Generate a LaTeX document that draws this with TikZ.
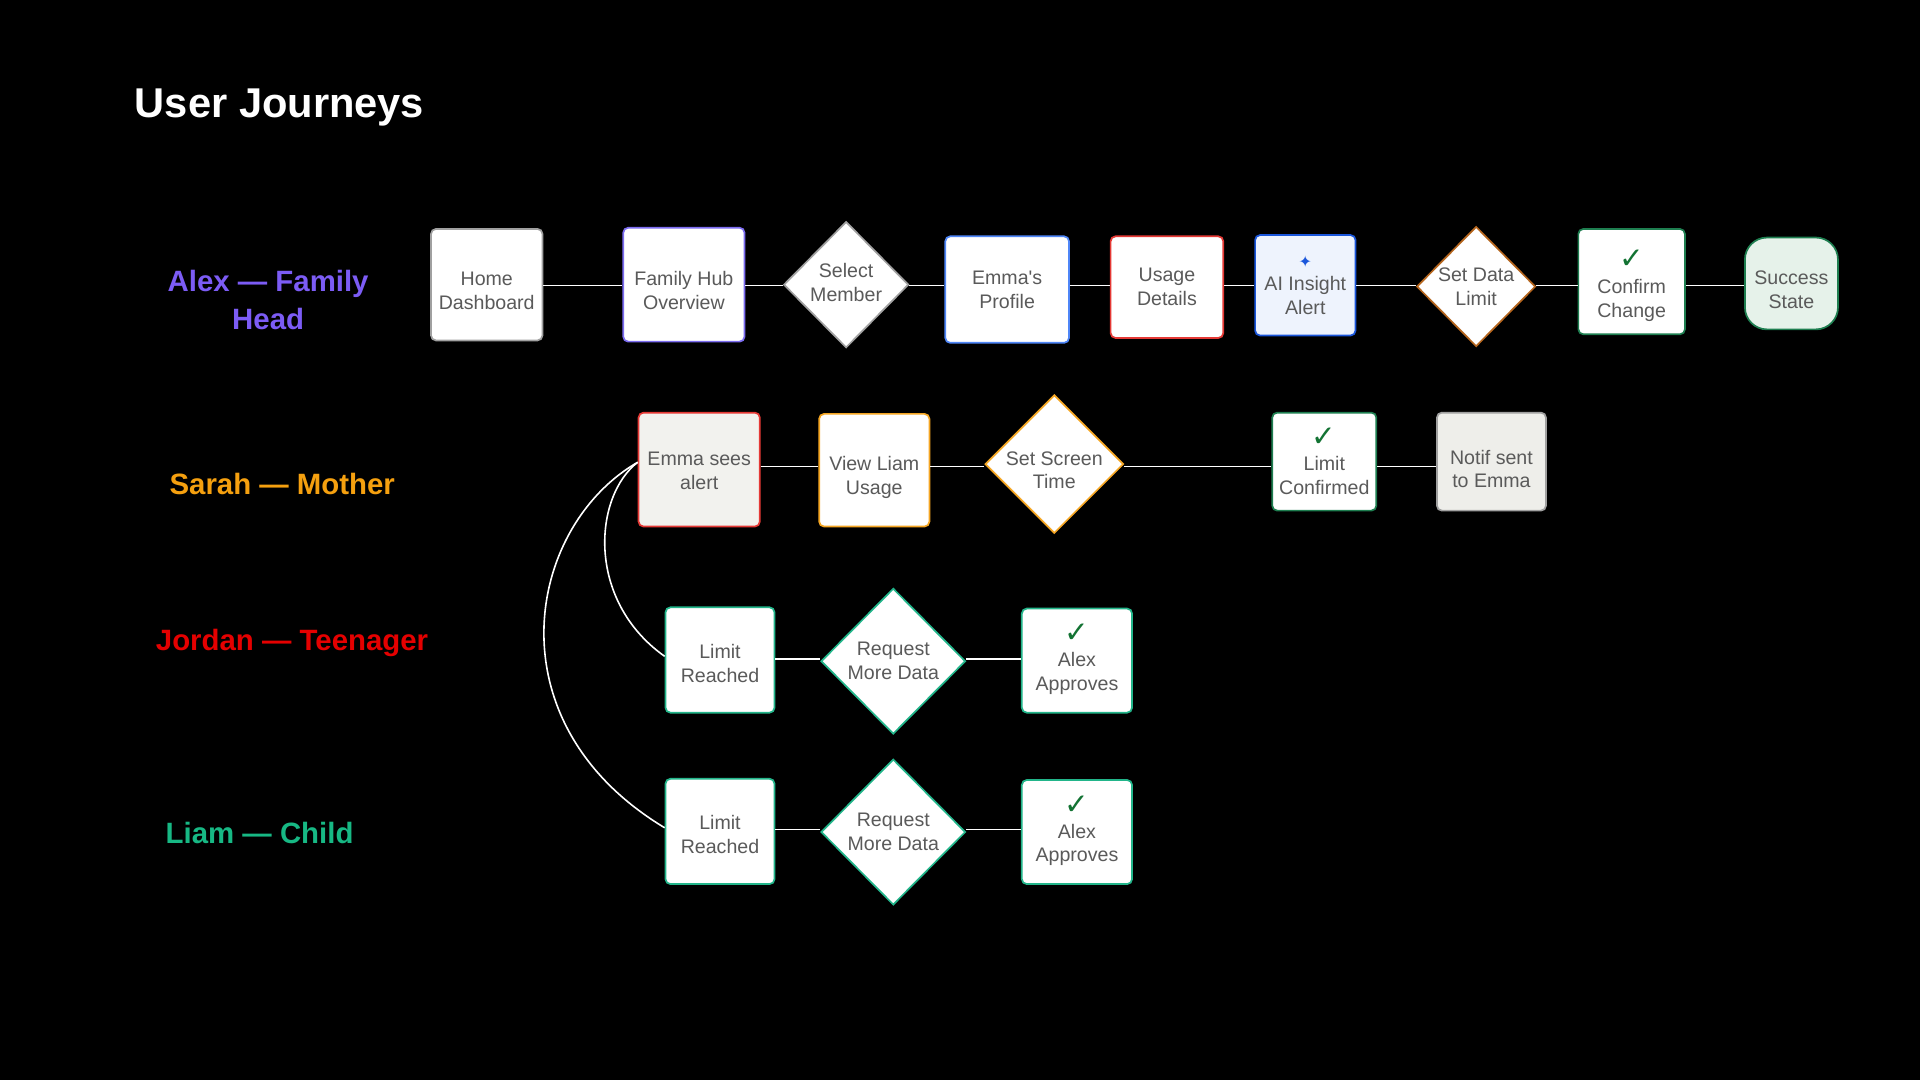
\documentclass[tikz,border=0pt]{standalone}
\usepackage{fontspec}
\setmainfont{Liberation Sans}
\newfontfamily\symfont{DejaVu Sans}
\usetikzlibrary{shapes.geometric}
\definecolor{txtgray}{HTML}{5A5A5A}
\definecolor{bgray}{HTML}{A0A0A0}
\definecolor{bpurple}{HTML}{7C6CF0}
\definecolor{bblue}{HTML}{4F86F7}
\definecolor{bred}{HTML}{E53935}
\definecolor{aiblue}{HTML}{1A56DB}
\definecolor{aifill}{HTML}{EEF3FD}
\definecolor{bbrown}{HTML}{B5651D}
\definecolor{bgreen}{HTML}{1E7E50}
\definecolor{sfill}{HTML}{E6F2EA}
\definecolor{efill}{HTML}{F2F2EE}
\definecolor{nfill}{HTML}{EEEEEA}
\definecolor{borange}{HTML}{F5A623}
\definecolor{bteal}{HTML}{22B58A}
\definecolor{chk}{HTML}{137333}
\definecolor{lpurple}{HTML}{7C5CF5}
\definecolor{lorange}{HTML}{F5A00F}
\definecolor{lred}{HTML}{E50000}
\definecolor{lgreen}{HTML}{17B884}
\newcommand{\chkmark}{{\symfont\fontsize{24}{24}\selectfont\color{chk}\char"2713}}
\newcommand{\sparkle}{{\symfont\fontsize{13}{13}\selectfont\color{aiblue}\char"2726}}
\begin{document}
\begin{tikzpicture}[x=1pt,y=-1pt,
  box/.style={draw, fill=white, rounded corners=4pt, line width=1.4pt, inner sep=0pt},
  dia/.style={draw, fill=white, diamond, line width=1.4pt, inner sep=0pt, aspect=1},
  btxt/.style={align=center, inner sep=0pt, font=\fontsize{16}{19.5}\selectfont, text=txtgray},
  conn/.style={draw=white, line width=1.3pt},
  lane/.style={align=center, inner sep=0pt, font=\fontsize{24}{31}\selectfont\bfseries},
]
\fill[black] (0,0) rectangle (1568,882);
\useasboundingbox (0,0) rectangle (1568,882);

\node[anchor=base west, inner sep=0pt, text=white, font=\fontsize{34}{40}\selectfont\bfseries] (title) at (110,96) {User Journeys};

\node[lane, text=lpurple] (l1) at (219,245) {Alex — Family\\Head};
\node[lane, text=lorange] (l2) at (230.5,395) {Sarah — Mother};
\node[lane, text=lred] (l3) at (238.5,525) {Jordan — Teenager};
\node[lane, text=lgreen] (l4) at (212,680) {Liam — Child};

\coordinate (r1) at (0,233);
\coordinate (r2) at (0,381);
\coordinate (r3) at (0,538);
\coordinate (r4) at (0,677.5);

% Row 1
\node[box, draw=bgray, minimum width=91pt, minimum height=91pt] (hd) at (397.5,232.5) {};
\node[btxt] (hdt) at ([yshift=-5pt]hd.center) {Home\\Dashboard};
\node[box, draw=bpurple, minimum width=99pt, minimum height=93pt] (fh) at (558.5,232.5) {};
\node[btxt] (fht) at ([yshift=-5pt]fh.center) {Family Hub\\Overview};
\node[dia, draw=bgray, minimum width=102pt, minimum height=103pt] (sm) at (691,232.5) {};
\node[btxt] (smt) at ([yshift=2pt]sm.center) {Select\\Member};
\node[box, draw=bblue, minimum width=101pt, minimum height=87pt] (ep) at (822.5,236.5) {};
\node[btxt] (ept) at (ep.center) {Emma\textquotesingle s\\Profile};
\node[box, draw=bred, minimum width=92pt, minimum height=83pt] (ud) at (953,234.5) {};
\node[btxt] (udt) at (ud.center) {Usage\\Details};
\node[box, draw=aiblue, fill=aifill, minimum width=82pt, minimum height=82pt] (ai) at (1066,233) {};
\node[btxt] (ait) at (ai.center) {\sparkle\\[-1pt]AI Insight\\Alert};
\node[dia, draw=bbrown, minimum width=97pt, minimum height=98pt] (sd) at (1205.5,234) {};
\node[btxt] (sdt) at (sd.center) {Set Data\\Limit};
\node[box, draw=bgreen, minimum width=87pt, minimum height=86pt] (cc) at (1332.5,230) {};
\node[btxt] (cct) at ([yshift=-3.5pt]cc.center) {\chkmark\\[1pt]Confirm\\Change};
\node[box, draw=bgreen, fill=sfill, rounded corners=18pt, minimum width=76pt, minimum height=75pt] (ss) at (1463,231.5) {};
\node[btxt] (sst) at ([yshift=-5pt]ss.center) {Success\\State};

\draw[conn] (hd.east |- r1) -- (fh.west |- r1);
\draw[conn] (fh.east |- r1) -- (sm.west |- r1);
\draw[conn] (sm.east |- r1) -- (ep.west |- r1);
\draw[conn] (ep.east |- r1) -- (ud.west |- r1);
\draw[conn] (ud.east |- r1) -- (ai.west |- r1);
\draw[conn] (ai.east |- r1) -- (sd.west |- r1);
\draw[conn] (sd.east |- r1) -- (cc.west |- r1);
\draw[conn] (cc.east |- r1) -- (ss.west |- r1);

% Row 2
\node[box, draw=bred, fill=efill, minimum width=99pt, minimum height=93pt] (esa) at (571,383.5) {};
\node[btxt] (esat) at ([yshift=-1pt]esa.center) {Emma sees\\alert};
\node[box, draw=borange, minimum width=90pt, minimum height=92pt] (vlu) at (714,384) {};
\node[btxt] (vlut) at ([yshift=-6pt]vlu.center) {View Liam\\Usage};
\node[dia, draw=borange, minimum width=113pt, minimum height=113pt] (scr) at (861,379) {};
\node[btxt] (scrt) at ([yshift=-5pt]scr.center) {Set Screen\\Time};
\node[box, draw=bgreen, minimum width=85pt, minimum height=80pt] (lc) at (1081.5,377) {};
\node[btxt] (lct) at (lc.center) {\chkmark\\[0pt]Limit\\Confirmed};
\node[box, draw=bgray, fill=nfill, minimum width=89pt, minimum height=80pt] (nse) at (1218,377) {};
\node[btxt] (nset) at ([yshift=-6pt]nse.center) {Notif sent\\to Emma};

\draw[conn] (esa.east |- r2) -- (vlu.west |- r2);
\draw[conn] (vlu.east |- r2) -- (scr.west |- r2);
\draw[conn] (scr.east |- r2) -- (lc.west |- r2);
\draw[conn] (lc.east |- r2) -- (nse.west |- r2);

% Row 3
\node[box, draw=bteal, minimum width=89pt, minimum height=86pt] (lr1) at (588,539) {};
\node[btxt] (lr1t) at ([yshift=-2.5pt]lr1.center) {Limit\\Reached};
\node[dia, draw=bteal, minimum width=118pt, minimum height=119pt] (rmd1) at (729.5,540) {};
\node[btxt] (rmd1t) at (rmd1.center) {Request\\More Data};
\node[box, draw=bteal, minimum width=90pt, minimum height=85pt] (aa1) at (879.5,539.5) {};
\node[btxt] (aa1t) at ([yshift=1pt]aa1.center) {\chkmark\\[0pt]Alex\\Approves};

\draw[conn] (lr1.east |- r3) -- (rmd1.west |- r3);
\draw[conn] (rmd1.east |- r3) -- (aa1.west |- r3);

% Row 4
\node[box, draw=bteal, minimum width=89pt, minimum height=86pt] (lr2) at (588,679) {};
\node[btxt] (lr2t) at ([yshift=-2.5pt]lr2.center) {Limit\\Reached};
\node[dia, draw=bteal, minimum width=118pt, minimum height=119pt] (rmd2) at (729.5,679.5) {};
\node[btxt] (rmd2t) at (rmd2.center) {Request\\More Data};
\node[box, draw=bteal, minimum width=90pt, minimum height=85pt] (aa2) at (879.5,679.5) {};
\node[btxt] (aa2t) at ([yshift=1pt]aa2.center) {\chkmark\\[0pt]Alex\\Approves};

\draw[conn] (lr2.east |- r4) -- (rmd2.west |- r4);
\draw[conn] (rmd2.east |- r4) -- (aa2.west |- r4);

% Curves
\draw[conn] ([yshift=6pt]esa.west) .. controls (485,405) and (478,490) .. ([yshift=3pt]lr1.west);
\draw[conn] ([yshift=6pt]esa.west) .. controls (430,430) and (400,590) .. ([yshift=3pt]lr2.west);
\end{tikzpicture}
\end{document}
